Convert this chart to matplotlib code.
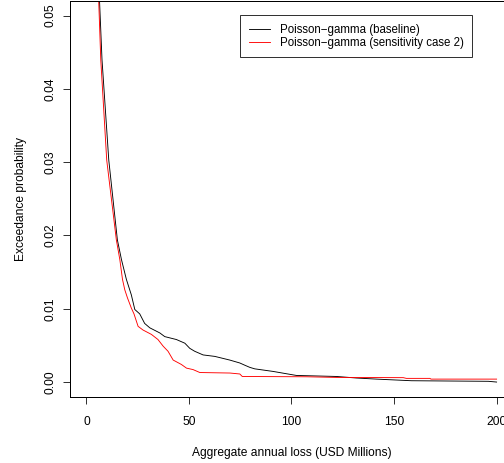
import matplotlib
matplotlib.use("Agg")
import matplotlib.pyplot as plt

plt.rcParams['font.family'] = ['Liberation Sans', 'DejaVu Sans']

# exceedance curves (loss in USD millions, probability)
base_loss = [5.0, 6.4, 7.6, 10.9, 15.1, 17.1, 19.5, 21.9, 23.6, 26.0,
             28.4, 30.9, 35.8, 38.2, 43.9, 48.0, 50.4, 52.8, 56.9, 62.6, 69.9,
             74.8, 77.2, 79.7, 82.1, 91.0, 97.6, 102.4, 122.0, 131.7, 141.5,
             158.5, 196.0, 200.0]
base_prob = [0.075, 0.052, 0.044, 0.0303, 0.0194, 0.0167, 0.014, 0.0119,
             0.0099, 0.0093, 0.0080, 0.0074, 0.0067, 0.0062, 0.0058, 0.0053, 0.0046,
             0.0042, 0.0037, 0.0035, 0.0030, 0.0026, 0.0023, 0.0020, 0.0018,
             0.00145, 0.00113, 0.0009, 0.00076, 0.00055, 0.0004, 0.00018, 0.0001,
             0.0]

sens_loss = [5.0, 6.0, 7.0, 9.9, 14.6, 16.3, 17.6, 18.7, 20.0, 21.9, 23.2,
             25.2, 27.6, 31.7, 34.9, 37.4, 39.8, 42.3, 46.3, 48.8, 52.0, 55.3,
             70.0, 74.8, 76.0, 107.3, 122.0, 154.5, 156.0, 167.5, 168.0, 200.0]
sens_prob = [0.075, 0.052, 0.044, 0.0303, 0.0194, 0.0167, 0.014, 0.0126,
             0.0115, 0.0101, 0.0093, 0.0076, 0.0071, 0.0065, 0.0058, 0.0049, 0.0042,
             0.0030, 0.0024, 0.0019, 0.0017, 0.0013, 0.00123, 0.0011, 0.00076,
             0.00072, 0.00063, 0.0006, 0.0005, 0.0005, 0.0004, 0.0004]

labels = ['Poisson\u2212gamma (baseline)', 'Poisson\u2212gamma (sensitivity case 2)']
xticks = [0, 50, 100, 150, 200]
yticks = [0.00, 0.01, 0.02, 0.03, 0.04, 0.05]

fig = plt.figure(figsize=(504 / 72, 463 / 72), dpi=72)
# plot region runs past the right edge of the picture (cropped R plot)
ax = fig.add_axes([70 / 504, 1 - 396.7 / 463, 443 / 504, 395.7 / 463])

ax.plot(base_loss, base_prob, color='black', lw=0.9, label=labels[0])
ax.plot(sens_loss, sens_prob, color='red', lw=0.9, label=labels[1])

ax.set_xlim(-8, 208)
ax.set_ylim(-0.002, 0.052)
ax.set_xticks(xticks)
ax.set_xticklabels([str(t) for t in xticks])
ax.set_yticks(yticks)
ax.set_yticklabels(['%.2f' % t for t in yticks], rotation=90, va='center')
ax.tick_params(axis='both', direction='out', length=7.2, width=0.8, labelsize=12)
ax.tick_params(axis='x', pad=12)
ax.tick_params(axis='y', pad=6)
for s in ax.spines.values():
    s.set_linewidth(1.0)

ax.set_xlabel('Aggregate annual loss (USD Millions)', fontsize=12, labelpad=19)
ax.set_ylabel('Exceedance probability', fontsize=12, labelpad=18)

leg = ax.legend(loc='upper left', bbox_to_anchor=(240 / 504, 1 - 15 / 463),
                bbox_transform=fig.transFigure, fontsize=11.5, frameon=True,
                fancybox=False, borderaxespad=0, borderpad=0.75, labelspacing=0.1,
                handlelength=1.9, handletextpad=0.8)
leg.get_frame().set_edgecolor('black')
leg.get_frame().set_linewidth(1.0)

plt.savefig('out.png', dpi=72)
